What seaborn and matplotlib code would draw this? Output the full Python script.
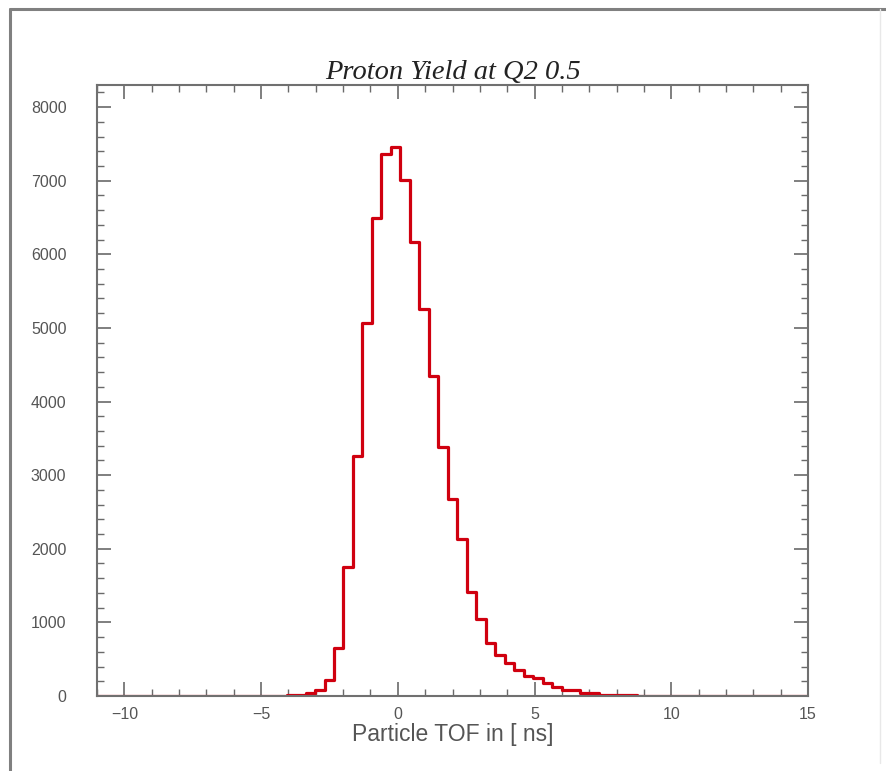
import numpy as np
import pandas as pd
import matplotlib
matplotlib.use("Agg")
import matplotlib.pyplot as plt
import seaborn as sns
from matplotlib.ticker import MultipleLocator

# ---- data ----
x_min, x_max, n_bins = -11.0, 15.0, 75
counts = [0] * 19 + [
    5, 10, 20, 40, 80, 220, 650, 1750, 3260, 5070,
    6490, 7360, 7460, 7010, 6170, 5260, 4350, 3380, 2680, 2130,
    1410, 1040, 720, 560, 450, 350, 270, 240, 180, 120,
    80, 80, 40, 40, 20, 20, 10, 10, 5, 5,
]
counts += [0] * (n_bins - len(counts))
title = "Proton Yield at Q2 0.5"
xlabel = "Particle TOF in [ ns]"
x_ticks = [-10, -5, 0, 5, 10, 15]
y_ticks = [0, 1000, 2000, 3000, 4000, 5000, 6000, 7000, 8000]

edges = np.linspace(x_min, x_max, n_bins + 1)
centers = 0.5 * (edges[:-1] + edges[1:])
df = pd.DataFrame({"tof": centers, "n": np.array(counts, dtype=float)})

sns.set_theme(style="white")
plt.rcParams["font.family"] = ["Liberation Sans", "DejaVu Sans"]

fig = plt.figure(figsize=(8.86, 7.71), dpi=100)
ax = fig.add_axes([97 / 886, 1 - 696 / 771, (808 - 97) / 886, (696 - 85) / 771])

sns.histplot(data=df, x="tof", weights="n", bins=n_bins, binrange=(x_min, x_max),
             element="step", fill=False, color="#d0000f", linewidth=2.3, ax=ax)

ax.set_xlim(x_min, x_max)
ax.set_ylim(0, 8300)
ax.set_xticks(x_ticks)
ax.set_yticks(y_ticks)
ax.xaxis.set_minor_locator(MultipleLocator(1))
ax.yaxis.set_minor_locator(MultipleLocator(200))
ax.tick_params(which="both", direction="in", top=True, right=True,
               bottom=True, left=True, colors="#6a6a6a", labelcolor="#555555")
ax.tick_params(which="major", length=10, width=1.2, labelsize=11.5)
ax.tick_params(which="minor", length=5, width=1.0)
ax.set_xticklabels([("\u2212" + str(-t)) if t < 0 else str(t) for t in x_ticks])
for s in ax.spines.values():
    s.set_color("#707070")
    s.set_linewidth(1.5)

ax.set_xlabel(xlabel, fontsize=16.5, color="#555555", labelpad=1)
ax.set_ylabel("")
ax.set_title(title, fontsize=20.5, fontstyle="italic", family="Liberation Serif",
             color="#222222", pad=-8)
ax.yaxis.set_tick_params(pad=22)
ax.xaxis.set_tick_params(pad=8)

# outer frame
fig.add_artist(plt.Line2D([10 / 886, 10 / 886], [0, 1 - 9 / 771],
                          transform=fig.transFigure, color="#808080", lw=2.2))
fig.add_artist(plt.Line2D([10 / 886, 1], [1 - 9 / 771, 1 - 9 / 771],
                          transform=fig.transFigure, color="#808080", lw=2.2))
fig.add_artist(plt.Line2D([880 / 886, 880 / 886], [1 - 9 / 771, 0.01],
                          transform=fig.transFigure, color="#e8e8e8", lw=1.0))

fig.savefig("out.png", dpi=100)
